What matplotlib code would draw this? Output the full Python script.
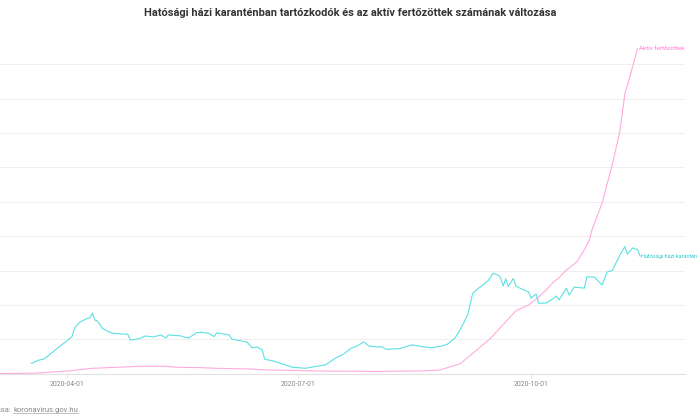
import matplotlib
matplotlib.use('Agg')
import matplotlib.pyplot as plt
import matplotlib.dates as mdates
from matplotlib.lines import Line2D
import pandas as pd

# texts
title = 'Hatósági házi karanténban tartózkodók és az aktív fertőzöttek számának változása'
quarantine_label = 'Hatósági házi karantén'
active_label = 'Aktív fertőzöttek'
source_prefix = 'Forrása: '
source_link = 'koronavirus.gov.hu'
tick_dates = ['2020-04-01', '2020-07-01', '2020-10-01']

# hatósági házi karantén
quarantine_dates = [
    '2020-03-18', '2020-03-21', '2020-03-23', '2020-04-03', '2020-04-04', '2020-04-06',
    '2020-04-09', '2020-04-10', '2020-04-11', '2020-04-12', '2020-04-13', '2020-04-15',
    '2020-04-17', '2020-04-19', '2020-04-22', '2020-04-25', '2020-04-26', '2020-04-29',
    '2020-05-02', '2020-05-05', '2020-05-08', '2020-05-10', '2020-05-11', '2020-05-16',
    '2020-05-17', '2020-05-19', '2020-05-22', '2020-05-24', '2020-05-27', '2020-05-29',
    '2020-05-30', '2020-06-04', '2020-06-05', '2020-06-07', '2020-06-11', '2020-06-13',
    '2020-06-15', '2020-06-17', '2020-06-18', '2020-06-21', '2020-06-29', '2020-07-04',
    '2020-07-07', '2020-07-12', '2020-07-16', '2020-07-19', '2020-07-22', '2020-07-25',
    '2020-07-27', '2020-07-29', '2020-08-01', '2020-08-03', '2020-08-05', '2020-08-10',
    '2020-08-15', '2020-08-22', '2020-08-26', '2020-08-29', '2020-09-01', '2020-09-03',
    '2020-09-06', '2020-09-08', '2020-09-10', '2020-09-12', '2020-09-14', '2020-09-16',
    '2020-09-18', '2020-09-19', '2020-09-20', '2020-09-21', '2020-09-22', '2020-09-24',
    '2020-09-25', '2020-09-28', '2020-09-30', '2020-10-01', '2020-10-03', '2020-10-04',
    '2020-10-07', '2020-10-09', '2020-10-11', '2020-10-12', '2020-10-14', '2020-10-15',
    '2020-10-16', '2020-10-18', '2020-10-22', '2020-10-23', '2020-10-26', '2020-10-29',
    '2020-10-31', '2020-11-02', '2020-11-05', '2020-11-07', '2020-11-08', '2020-11-10',
    '2020-11-12', '2020-11-13']
quarantine_values = [
    3050, 4000, 4300, 10800, 13300, 15000,
    16100, 16200, 17600, 15600, 15400, 13200,
    12400, 11800, 11600, 11500, 9800, 10100,
    11000, 10700, 11300, 10400, 11300, 11000,
    10700, 10400, 11900, 12100, 11700, 10800,
    11900, 11300, 10100, 9800, 9200, 7600,
    7800, 6900, 4200, 3800, 1900, 1600,
    2000, 2600, 4600, 5700, 7400, 8300,
    9300, 8100, 7800, 7900, 7100, 7300,
    8400, 7600, 7900, 8600, 10400, 12700,
    17100, 23400, 24700, 25800, 27000, 29200,
    28700, 27900, 25500, 27600, 25400, 27700,
    25500, 24400, 23800, 22000, 23200, 20500,
    20600, 21500, 22600, 21500, 23800, 24900,
    22900, 25200, 24900, 28200, 28100, 25800,
    29600, 30000, 34500, 37000, 34800, 36600,
    36100, 34200]

# aktív fertőzöttek
active_dates = [
    '2020-03-05', '2020-03-18', '2020-03-25', '2020-04-01', '2020-04-11', '2020-04-21',
    '2020-04-30', '2020-05-10', '2020-05-14', '2020-05-23', '2020-05-30', '2020-06-12',
    '2020-06-20', '2020-07-10', '2020-08-01', '2020-08-20', '2020-08-26', '2020-08-30',
    '2020-09-03', '2020-09-07', '2020-09-11', '2020-09-15', '2020-09-20', '2020-09-25',
    '2020-09-30', '2020-10-03', '2020-10-07', '2020-10-10', '2020-10-12', '2020-10-15',
    '2020-10-19', '2020-10-22', '2020-10-24', '2020-10-25', '2020-10-29', '2020-11-02',
    '2020-11-05', '2020-11-07', '2020-11-09', '2020-11-12']
active_values = [
    100, 150, 450, 800, 1600, 1900,
    2200, 2200, 1900, 1800, 1600, 1400,
    1100, 800, 700, 850, 1100, 2000,
    2900, 5300, 7800, 10300, 14300, 18300,
    20000, 21700, 24400, 26800, 27900, 30200,
    32500, 36000, 38900, 41800, 49600, 60700,
    70400, 81500, 86400, 94600]

cyan = '#5ce0e4'
pink = '#ffaadf'
narrow = ['Liberation Sans Narrow', 'Roboto', 'DejaVu Sans']

plt.rcParams['font.family'] = ['Roboto', 'DejaVu Sans']

fig = plt.figure(figsize=(7, 4.2), dpi=100)
ax = fig.add_axes([-0.0167, 0.11, 0.9953, 0.8027])

q_x = pd.to_datetime(quarantine_dates)
a_x = pd.to_datetime(active_dates)
ax.plot(a_x, active_values, color=pink, lw=0.8, clip_on=False, zorder=3)
ax.plot(q_x, quarantine_values, color=cyan, lw=0.8, clip_on=False, zorder=4)

a_lab = ax.annotate(active_label, (a_x[-1], active_values[-1]), xytext=(1.0, 0),
                    textcoords='offset points', ha='left', va='center',
                    fontsize=4.5, family=narrow, color='#ff7fcf', annotation_clip=False)
q_lab = ax.annotate(quarantine_label, (q_x[-1], quarantine_values[-1]), xytext=(0.8, 0),
                    textcoords='offset points', ha='left', va='center',
                    fontsize=5.3, family=narrow, color='#2fc8ce', annotation_clip=False)

ax.set_xlim(pd.Timestamp('2020-03-01'), pd.Timestamp('2020-11-30 17:00'))
ax.set_ylim(0, 98000)
ax.set_yticks(range(0, 100000, 10000))
ax.yaxis.grid(True, color='#efefef', lw=0.8)
ax.set_axisbelow(True)
ax.tick_params(axis='y', length=0, labelleft=False)

ax.set_xticks(pd.to_datetime(tick_dates))
ax.xaxis.set_major_formatter(mdates.DateFormatter('%Y-%m-%d'))
ax.tick_params(axis='x', length=3, width=0.6, color='#dddddd',
               labelsize=5, labelcolor='#888888', pad=2)

for side in ['top', 'right', 'left']:
    ax.spines[side].set_visible(False)
ax.spines['bottom'].set_color('#e2e2e2')
ax.spines['bottom'].set_linewidth(0.8)

ttl = fig.text(0.500, 0.968, title, ha='center', va='center', fontsize=9.5,
               family=narrow, fontweight='bold', color='#333333')

# source line, cut off at the left edge like the original
fig.text(13 / 700, 1 - 410 / 420, source_prefix, ha='right', va='center',
         fontsize=5.5, color='#888888')
link = fig.text(13 / 700, 1 - 410 / 420, source_link, ha='left', va='center',
                fontsize=5.5, color='#888888')

# shrink texts that would run past the right edge / wider than the original title
fig.canvas.draw()
r = fig.canvas.get_renderer()
for t in [q_lab, a_lab]:
    while t.get_window_extent(r).x1 > 698 and t.get_fontsize() > 3:
        t.set_fontsize(t.get_fontsize() - 0.1)
while ttl.get_window_extent(r).width > 415 and ttl.get_fontsize() > 6:
    ttl.set_fontsize(ttl.get_fontsize() - 0.1)

bb = link.get_window_extent(r).transformed(fig.transFigure.inverted())
fig.add_artist(Line2D([bb.x0, bb.x1], [bb.y0 + 0.001, bb.y0 + 0.001],
                      transform=fig.transFigure, color='#aaaaaa', lw=0.5))

fig.savefig('out.png', dpi=100)
